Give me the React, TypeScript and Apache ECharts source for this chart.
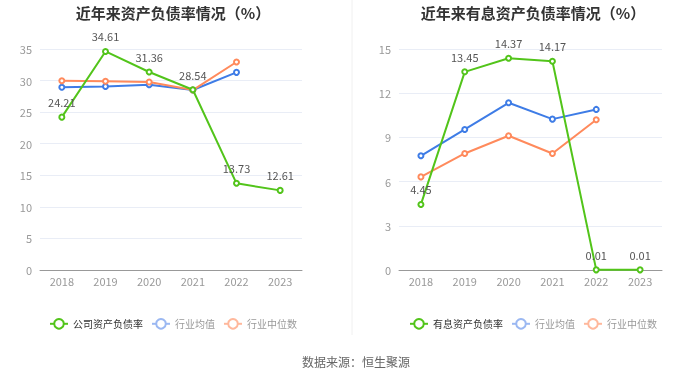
import React, { useEffect, useRef } from "react";
import * as echarts from "echarts";

const years = ["2018", "2019", "2020", "2021", "2022", "2023"];
const companyDebt = [24.21, 34.61, 31.36, 28.54, 13.73, 12.61];
const industryAvgDebt = [28.93, 29.05, 29.35, 28.5, 31.3, null];
const industryMedDebt = [29.97, 29.9, 29.76, 28.5, 32.94, null];
const interestDebt = [4.45, 13.45, 14.37, 14.17, 0.01, 0.01];
const industryAvgInterest = [7.75, 9.54, 11.35, 10.24, 10.9, null];
const industryMedInterest = [6.32, 7.91, 9.11, 7.91, 10.2, null];

const GREEN = "#52c41a";
const BLUE = "#3e7ce6";
const ORANGE = "#ff8a5c";

export default function App() {
  const ref = useRef<HTMLDivElement>(null);
  useEffect(() => {
    if (!ref.current) return;
    const chart = echarts.init(ref.current, undefined, { renderer: "svg" });
    const font = "'Noto Sans CJK SC', 'Noto Sans', sans-serif";
    const lineSeries = (
      name: string,
      data: (number | null)[],
      color: string,
      idx: number,
      labels: boolean
    ) => ({
      name,
      type: "line",
      xAxisIndex: idx,
      yAxisIndex: idx,
      data,
      symbol: "emptyCircle",
      symbolSize: 5,
      z: labels ? 5 : 3,
      lineStyle: { color, width: 2 },
      itemStyle: { color, borderWidth: 1.5 },
      label: labels
        ? { show: true, position: "top", color: "#555", fontSize: 11, distance: 6 }
        : { show: false },
    });
    const legendItems = (first: string) => [
      { name: first, textStyle: { color: "#333" } },
      {
        name: "行业均值",
        textStyle: { color: "#999" },
        itemStyle: { color: "#9bb8f2" },
        lineStyle: { color: "#9bb8f2" },
      },
      {
        name: "行业中位数",
        textStyle: { color: "#999" },
        itemStyle: { color: "#ffb89c" },
        lineStyle: { color: "#ffb89c" },
      },
    ];
    const xAxisCommon = {
      type: "category",
      data: years,
      boundaryGap: true,
      axisTick: { show: false },
      axisLine: { lineStyle: { color: "#999" } },
      axisLabel: { color: "#999", fontSize: 11, margin: 5 },
    };
    const yAxisCommon = {
      type: "value",
      min: 0,
      axisLine: { show: false },
      axisTick: { show: false },
      axisLabel: { color: "#999", fontSize: 11, margin: 8 },
      splitLine: { lineStyle: { color: "#e9edf6" } },
    };
    chart.setOption({
      animation: false,
      textStyle: { fontFamily: font },
      title: [
        {
          text: "近年来资产负债率情况（%）",
          left: 168,
          textAlign: "center",
          top: 0,
          textStyle: { fontSize: 15, fontWeight: "bold", color: "#333" },
        },
        {
          text: "近年来有息资产负债率情况（%）",
          left: 528,
          textAlign: "center",
          top: 0,
          textStyle: { fontSize: 15, fontWeight: "bold", color: "#333" },
        },
        {
          text: "数据来源：恒生聚源",
          left: 351,
          textAlign: "center",
          top: 350,
          textStyle: { fontSize: 12, fontWeight: "normal", color: "#666" },
        },
      ],
      legend: [
        {
          left: 44,
          top: 313,
          itemWidth: 18,
          itemHeight: 12,
          itemGap: 8,
          textStyle: { fontSize: 10 },
          data: legendItems("公司资产负债率"),
        },
        {
          left: 404,
          top: 313,
          itemWidth: 18,
          itemHeight: 12,
          itemGap: 8,
          textStyle: { fontSize: 10 },
          data: legendItems("有息资产负债率"),
        },
      ],
      grid: [
        { left: 40, top: 49, width: 262, height: 221 },
        { left: 399, top: 49, width: 263, height: 221 },
      ],
      xAxis: [
        { ...xAxisCommon, gridIndex: 0 },
        { ...xAxisCommon, gridIndex: 1 },
      ],
      yAxis: [
        { ...yAxisCommon, gridIndex: 0, max: 35, interval: 5 },
        { ...yAxisCommon, gridIndex: 1, max: 15, interval: 3 },
      ],
      graphic: [
        {
          type: "line",
          shape: { x1: 352, y1: 0, x2: 352, y2: 335 },
          style: { stroke: "#f0f0f0", lineWidth: 1 },
        },
      ],
      series: [
        lineSeries("行业均值", industryAvgDebt, BLUE, 0, false),
        lineSeries("行业中位数", industryMedDebt, ORANGE, 0, false),
        lineSeries("公司资产负债率", companyDebt, GREEN, 0, true),
        lineSeries("行业均值", industryAvgInterest, BLUE, 1, false),
        lineSeries("行业中位数", industryMedInterest, ORANGE, 1, false),
        lineSeries("有息资产负债率", interestDebt, GREEN, 1, true),
      ],
    });
    return () => chart.dispose();
  }, []);
  return (
    <div
      ref={ref}
      style={{ position: "fixed", left: 0, top: 0, width: 700, height: 378 }}
    />
  );
}
